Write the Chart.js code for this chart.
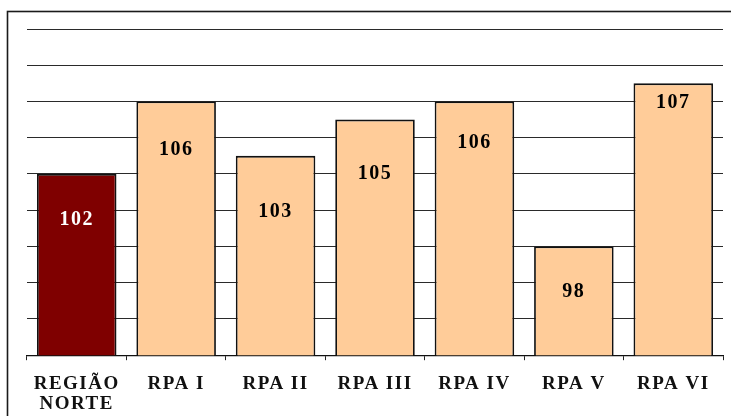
<!DOCTYPE html>
<html>
<head>
<meta charset="utf-8">
<script src="https://cdn.jsdelivr.net/npm/chart.js@4/dist/chart.umd.min.js"></script>
<style>
  html, body { margin: 0; padding: 0; background: #fff; }
  #wrap { position: relative; width: 731px; height: 416px; overflow: hidden; }
  #chart { display: block; }
</style>
</head>
<body>
<div id="wrap"><canvas id="chart" width="731" height="431"></canvas></div>
<script>
// Regions and their index values
const categories = [['REGIÃO', 'NORTE'], 'RPA I', 'RPA II', 'RPA III', 'RPA IV', 'RPA V', 'RPA VI'];
const values = [102, 106, 103, 105, 106, 98, 107];
const barColors = ['#7f0000', '#ffcc99', '#ffcc99', '#ffcc99', '#ffcc99', '#ffcc99', '#ffcc99'];
const labelColors = ['#ffffff', '#000000', '#000000', '#000000', '#000000', '#000000', '#000000'];
// vertical offset (px) of each value label below the top of its bar
const labelOffsets = [46, 48, 56, 54, 41, 45, 19];

const SERIF = '"Liberation Serif", "Times New Roman", serif';

// frame around the plot + letter spacing for all text
const framePlugin = {
  id: 'frame',
  beforeDraw(chart) {
    const ctx = chart.ctx;
    ctx.save();
    ctx.strokeStyle = '#1a1a1a';
    ctx.lineWidth = 1.6;
    ctx.strokeRect(7.5, 11.5, 900, 600);
    ctx.restore();
    ctx.letterSpacing = '1.5px';
  }
};

// value labels inside the bars
const valueLabels = {
  id: 'valueLabels',
  afterDatasetsDraw(chart) {
    const ctx = chart.ctx;
    const meta = chart.getDatasetMeta(0);
    ctx.save();
    ctx.font = 'bold 20px ' + SERIF;
    ctx.textAlign = 'center';
    ctx.textBaseline = 'middle';
    meta.data.forEach((bar, i) => {
      ctx.fillStyle = labelColors[i];
      ctx.fillText(String(values[i]), bar.x, bar.y + labelOffsets[i]);
    });
    ctx.restore();
  }
};

new Chart(document.getElementById('chart'), {
  type: 'bar',
  data: {
    labels: categories,
    datasets: [{
      data: values,
      backgroundColor: barColors,
      borderColor: '#111111',
      borderWidth: 1.8,
      borderSkipped: 'bottom',
      categoryPercentage: 0.8,
      barPercentage: 1.0
    }]
  },
  options: {
    responsive: false,
    animation: false,
    events: [],
    layout: { padding: { left: 27, right: 8, top: 29, bottom: 3 } },
    plugins: {
      legend: { display: false },
      tooltip: { enabled: false }
    },
    scales: {
      x: {
        offset: true,
        grid: {
          offset: true,
          drawOnChartArea: false,
          drawTicks: true,
          tickLength: 5,
          color: '#222222',
          lineWidth: 1
        },
        border: { display: true, color: '#111111', width: 1.2 },
        ticks: {
          color: '#111111',
          padding: 13,
          maxRotation: 0,
          autoSkip: false,
          font: { family: SERIF, size: 19, weight: 'bold', lineHeight: 1.1 }
        }
      },
      y: {
        min: 92,
        max: 110,
        ticks: { display: false, stepSize: 2 },
        border: { display: false },
        grid: { drawTicks: false, color: '#2a2a2a', lineWidth: 1 }
      }
    }
  },
  plugins: [framePlugin, valueLabels]
});
</script>
</body>
</html>
